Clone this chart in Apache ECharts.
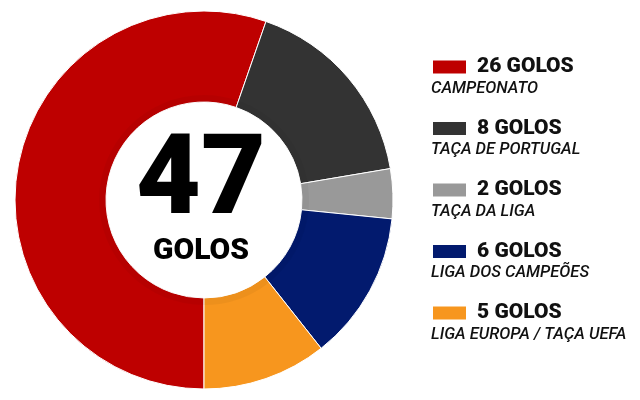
<!DOCTYPE html>
<html><head><meta charset="utf-8">
<script src="https://cdn.jsdelivr.net/npm/echarts@6/dist/echarts.min.js"></script>
<style>html,body{margin:0;padding:0;background:#fff}#c{width:640px;height:400px}</style>
</head><body><div id="c"></div>
<script>
const categories = ['CAMPEONATO', 'TAÇA DE PORTUGAL', 'TAÇA DA LIGA', 'LIGA DOS CAMPEÕES', 'LIGA EUROPA / TAÇA UEFA'];
const goals = [26, 8, 2, 6, 5];
const colors = ['#be0000', '#333333', '#999999', '#021a6e', '#f7961e'];
const totalLabel = '47';
const unitLabel = 'GOLOS';

const chart = echarts.init(document.getElementById('c'), null, {renderer: 'canvas'});
const data = categories.map((c, i) => ({name: c, value: goals[i], itemStyle: {color: colors[i]}}));
const FONT = 'Roboto, "Liberation Sans", sans-serif';

const subGraphics = categories.map((c, i) => ({
  type: 'text', left: 431, top: 80 + i * 61.5,
  style: {text: c, font: 'italic 500 16.5px ' + FONT, fill: '#111'}
}));

chart.setOption({
  animation: false,
  color: colors,
  legend: {
    orient: 'vertical', left: 431, top: 56.5, padding: 0,
    itemWidth: 35, itemHeight: 15, itemGap: 40.5,
    icon: 'rect',
    data: categories,
    formatter: name => goals[categories.indexOf(name)] + ' GOLOS',
    textStyle: {fontFamily: FONT, fontWeight: 900, fontSize: 21, color: '#111', height: 21, lineHeight: 21, padding: [0, 0, 0, 5]},
    selectedMode: false
  },
  series: [
    {
      type: 'pie', center: [204, 200], radius: [98, 189],
      startAngle: 270, clockwise: true,
      label: {show: false}, labelLine: {show: false},
      itemStyle: {borderColor: '#fff', borderWidth: 1},
      emphasis: {disabled: true},
      data: data
    },
    {
      type: 'pie', center: [204, 200], radius: [98, 105],
      startAngle: 270, clockwise: true, silent: true,
      label: {show: false}, labelLine: {show: false},
      itemStyle: {color: 'rgba(0,0,0,0.04)', borderWidth: 0},
      data: goals.map((v, i) => ({name: categories[i] + ' ', value: v}))
    }
  ],
  graphic: [
    {type: 'text', x: 201, y: 185, style: {text: totalLabel, font: '900 112px ' + FONT, fill: '#000', textAlign: 'center', textVerticalAlign: 'middle'}},
    {type: 'text', x: 201, y: 251, style: {text: unitLabel, font: '900 30px ' + FONT, fill: '#000', textAlign: 'center', textVerticalAlign: 'middle'}},
    {type: 'circle', shape: {cx: 204, cy: 200, r: 111}, style: {fill: null, stroke: 'rgba(0,0,0,0.12)', lineWidth: 0.8, lineDash: [2, 2]}, silent: true}
  ].concat(subGraphics)
});
</script></body></html>
